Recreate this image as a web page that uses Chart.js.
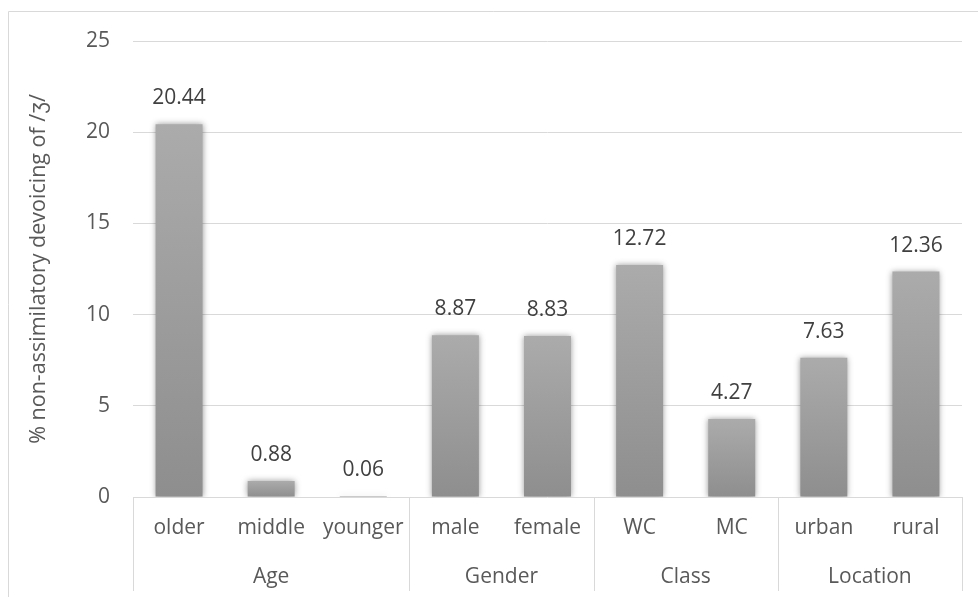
<!DOCTYPE html>
<html>
<head>
<meta charset="utf-8">
<script src="https://cdn.jsdelivr.net/npm/chart.js@4"></script>
<style>
  html, body { margin: 0; padding: 0; background: #ffffff; }
  #wrap { width: 978px; height: 597px; position: relative; }
</style>
</head>
<body>
<div id="wrap"><canvas id="c"></canvas></div>
<script>
// Devoicing rates by speaker group
const categories = ['older', 'middle', 'younger', 'male', 'female', 'WC', 'MC', 'urban', 'rural'];
const groups = ['Age', 'Gender', 'Class', 'Location'];
const groupSizes = [3, 2, 2, 2];
const values = [20.44, 0.88, 0.06, 8.87, 8.83, 12.72, 4.27, 7.63, 12.36];
const yTicks = [0, 5, 10, 15, 20, 25];
const yTitle = '% non-assimilatory devoicing of /ʒ/';

const FONT = '"Open Sans", sans-serif';
const SIZE = 21;
const GRID = '#d9d9d9';
const TEXT = '#595959';

// Light outer frame around the chart
const framePlugin = {
  id: 'frame',
  beforeDraw(chart) {
    const ctx = chart.ctx;
    ctx.save();
    ctx.strokeStyle = GRID;
    ctx.lineWidth = 1;
    ctx.beginPath();
    ctx.moveTo(8.5, chart.height);
    ctx.lineTo(8.5, 11.5);
    ctx.lineTo(chart.width, 11.5);
    ctx.stroke();
    ctx.restore();
  }
};

// Soft shadow behind the bars
const shadowPlugin = {
  id: 'barShadow',
  beforeDatasetDraw(chart) {
    const ctx = chart.ctx;
    ctx.save();
    ctx.shadowColor = 'rgba(0,0,0,0.4)';
    ctx.shadowBlur = 6;
    ctx.shadowOffsetX = 0;
    ctx.shadowOffsetY = 0;
  },
  afterDatasetDraw(chart) {
    chart.ctx.restore();
  }
};

// Value labels above each bar
const valueLabelPlugin = {
  id: 'valueLabels',
  afterDatasetsDraw(chart) {
    const ctx = chart.ctx;
    const meta = chart.getDatasetMeta(0);
    ctx.save();
    ctx.font = SIZE + 'px ' + FONT;
    ctx.fillStyle = '#404040';
    ctx.textAlign = 'center';
    ctx.textBaseline = 'middle';
    meta.data.forEach((bar, i) => {
      ctx.fillText(values[i].toFixed(2), bar.x, bar.y - 26);
    });
    ctx.restore();
  }
};

// Second row of the category axis: group names and dividers
const groupAxisPlugin = {
  id: 'groupAxis',
  afterDraw(chart) {
    const ctx = chart.ctx;
    const x = chart.scales.x;
    const area = chart.chartArea;
    const band = (x.getPixelForValue(1) - x.getPixelForValue(0));
    const edge = i => x.getPixelForValue(i) - band / 2;
    ctx.save();
    ctx.strokeStyle = GRID;
    ctx.lineWidth = 1;
    ctx.font = SIZE + 'px ' + FONT;
    ctx.fillStyle = TEXT;
    ctx.textAlign = 'center';
    ctx.textBaseline = 'middle';
    let start = 0;
    const bottom = 591;
    const drawDivider = px => {
      const xx = Math.round(px) + 0.5;
      ctx.beginPath();
      ctx.moveTo(xx, area.bottom);
      ctx.lineTo(xx, bottom);
      ctx.stroke();
    };
    drawDivider(edge(0));
    groups.forEach((g, gi) => {
      const end = start + groupSizes[gi];
      const left = edge(start);
      const right = edge(end);
      drawDivider(right);
      ctx.fillText(g, (left + right) / 2, 577);
      start = end;
    });
    ctx.restore();
  }
};

const ctx = document.getElementById('c').getContext('2d');

function barGradient(context) {
  const chart = context.chart;
  if (!chart.chartArea || context.dataIndex === undefined) return '#9c9c9c';
  const y = chart.scales.y;
  const top = y.getPixelForValue(values[context.dataIndex]);
  const bottom = y.getPixelForValue(0);
  const g = chart.ctx.createLinearGradient(0, top, 0, Math.max(bottom, top + 1));
  g.addColorStop(0, '#ababab');
  g.addColorStop(1, '#8e8e8e');
  return g;
}

new Chart(ctx, {
  type: 'bar',
  data: {
    labels: categories,
    datasets: [{
      data: values,
      backgroundColor: barGradient,
      borderWidth: 0,
      categoryPercentage: 1,
      barPercentage: 0.51
    }]
  },
  options: {
    responsive: true,
    maintainAspectRatio: false,
    animation: false,
    devicePixelRatio: 1,
    layout: { padding: { top: 41, right: 16, bottom: 0, left: 0 } },
    plugins: {
      legend: { display: false },
      tooltip: { enabled: false }
    },
    scales: {
      x: {
        grid: { display: false, drawTicks: false },
        border: { display: false },
        ticks: {
          color: TEXT,
          font: { family: FONT, size: SIZE },
          padding: 18,
          maxRotation: 0,
          autoSkip: false
        },
        afterFit(scale) { scale.height = 100; }
      },
      y: {
        min: 0,
        max: 25,
        grid: { color: GRID, drawTicks: false, lineWidth: 1 },
        border: { display: false },
        afterBuildTicks(scale) { scale.ticks = yTicks.map(v => ({ value: v })); },
        ticks: {
          color: TEXT,
          font: { family: FONT, size: SIZE },
          padding: 23
        },
        title: {
          display: true,
          text: yTitle,
          color: TEXT,
          font: { family: FONT, size: 21.5 },
          padding: { top: 26, bottom: 0 }
        },
        afterFit(scale) { scale.width = 133; }
      }
    }
  },
  plugins: [framePlugin, shadowPlugin, valueLabelPlugin, groupAxisPlugin]
});
</script>
</body>
</html>
